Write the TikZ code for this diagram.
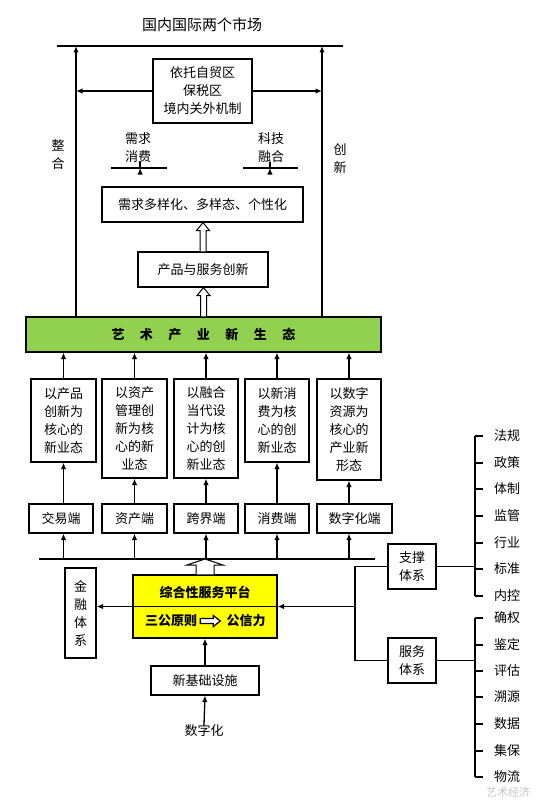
\documentclass[tikz,border=0pt]{standalone}
\usepackage{fontspec}
\newfontfamily\cjk{Noto Sans CJK SC}
\usetikzlibrary{arrows.meta,calc}
\definecolor{ecogreen}{HTML}{92D050}
\definecolor{platyellow}{HTML}{FFFF00}
\newcommand{\hollowup}[5]{%
  \draw[line width=1pt, fill=white] let \p1=(#1), \p2=(#2) in
    (\x1-#3,\y1) -- (\x1-#3,\y2-#5) -- (\x1-#4,\y2-#5) -- (\x1,\y2) --
    (\x1+#4,\y2-#5) -- (\x1+#3,\y2-#5) -- (\x1+#3,\y1);}
\newcommand{\hollowright}[5]{%
  \draw[line width=1.2pt, fill=white] let \p1=(#1), \p2=(#2) in
    (\x1,\y1+#3) -- (\x2-#5,\y1+#3) -- (\x2-#5,\y1+#4) -- (\x2,\y1) --
    (\x2-#5,\y1-#4) -- (\x2-#5,\y1-#3) -- (\x1,\y1-#3) -- cycle;}
\begin{document}
\begin{tikzpicture}[x=1pt,y=-1pt,
  every node/.style={font=\cjk\fontsize{13}{18}\selectfont, inner sep=0pt, align=center},
  box/.style={draw, line width=1.1pt},
  arr/.style={line width=1.3pt, -{Latex[length=6.5pt,width=5.5pt]}},
  ln/.style={line width=1.3pt}]
\useasboundingbox (0,0) rectangle (550,808);

% top
\node[font=\cjk\fontsize{15}{18}\selectfont] (market) at (202,25) {国内国际两个市场};
\coordinate (tl) at (57,46);
\coordinate (tr) at (343,46);
\draw[ln] (tl) -- (tr);
\coordinate (Ltop) at (76,46);
\coordinate (Rtop) at (322,46);

\node[box, minimum width=99pt, minimum height=64pt] (zone) at (202.5,91) {依托自贸区\\保税区\\境内关外机制};
\node (zh) at (58,155) {整\\合};
\node (cx) at (340,159) {创\\新};

\node (xq) at (138,148) {需求\\消费};
\node (kj) at (271,148) {科技\\融合};
\coordinate (xqL) at (111,168);
\coordinate (xqR) at (167,168);
\coordinate (kjL) at (243,168);
\coordinate (kjR) at (298,168);
\draw[ln] (xqL) -- (xqR);
\draw[ln] (kjL) -- (kjR);

\node[box, minimum width=201pt, minimum height=35pt] (demand) at (202.5,204.5) {需求多样化、多样态、个性化};
\node[box, minimum width=130pt, minimum height=35pt] (prod) at (203,269.5) {产品与服务创新};
\node[box, fill=ecogreen, minimum width=355pt, minimum height=35pt, font=\cjk\bfseries\fontsize{13}{18}\selectfont] (green) at (203.5,334.5)
  {艺\hspace{15.5pt}术\hspace{15.5pt}产\hspace{15.5pt}业\hspace{15.5pt}新\hspace{15.5pt}生\hspace{15.5pt}态};

\draw[arr] (green.north -| Ltop) -- (Ltop);
\draw[arr] (green.north -| Rtop) -- (Rtop);
\draw[arr] (zone.west) -- (zone.west -| Ltop);
\draw[arr] (zone.east) -- (zone.east -| Rtop);
\draw[arr] ($(xqL)!0.52!(xqR)$) -- ($(xqL)!0.52!(xqR)$ |- demand.north);
\draw[arr] ($(kjL)!0.49!(kjR)$) -- ($(kjL)!0.49!(kjR)$ |- demand.north);
\hollowup{prod.north}{demand.south}{3pt}{6.5pt}{8pt}
\hollowup{green.north}{prod.south}{3pt}{6.5pt}{8pt}

% five upper boxes
\node[box, minimum width=65pt, minimum height=83pt] (b1) at (63.5,420.5) {以产品\\创新为\\核心的\\新业态};
\node[box, minimum width=65pt, minimum height=99pt] (b2) at (134.5,428.5) {以资产\\管理创\\新为核\\心的新\\业态};
\node[box, minimum width=64pt, minimum height=99pt] (b3) at (206,428.5) {以融合\\当代设\\计为核\\心的创\\新业态};
\node[box, minimum width=64pt, minimum height=83pt] (b4) at (277,420.5) {以新消\\费为核\\心的创\\新业态};
\node[box, minimum width=64pt, minimum height=101pt] (b5) at (349,429.5) {以数字\\资源为\\核心的\\产业新\\形态};

% lower boxes
\node[box, minimum width=64pt, minimum height=29pt] (l1) at (61,518.5) {交易端};
\node[box, minimum width=65pt, minimum height=29pt] (l2) at (134.5,518.5) {资产端};
\node[box, minimum width=64pt, minimum height=29pt] (l3) at (206,518.5) {跨界端};
\node[box, minimum width=64pt, minimum height=29pt] (l4) at (277,518.5) {消费端};
\node[box, minimum width=75pt, minimum height=29pt] (l5) at (354.5,518.5) {数字化端};

\coordinate (busL) at (39,559);
\coordinate (busR) at (375,559);
\draw[ln] (busL) -- (busR);

\foreach \k in {1,...,5}{
  \draw[arr] (b\k.north) -- (b\k.north |- green.south);
  \draw[arr] (b\k.south |- l\k.north) -- (b\k.south);
  \draw[arr] (b\k.south |- busL) -- (b\k.south |- l\k.south);
}

% platform
\node[box, fill=platyellow, minimum width=144pt, minimum height=63pt] (plat) at (205,606.5) {};
\draw[line width=1pt] (plat.west) -- (plat.east);
\node[font=\cjk\bfseries\fontsize{13}{18}\selectfont] (p1) at (205,592) {综合性服务平台};
\node[font=\cjk\bfseries\fontsize{13}{18}\selectfont] (p2) at (171,621) {三公原则};
\node[font=\cjk\bfseries\fontsize{13}{18}\selectfont] (p3) at (246,621) {公信力};
\hollowright{$(p2.east)+(3,0)$}{$(p3.west)+(-6,0)$}{2.5pt}{5.5pt}{7pt}
\hollowup{plat.north}{$(plat.north |- busL)$}{9pt}{18pt}{6pt}

\node[box, minimum width=31pt, minimum height=90pt] (jr) at (80.5,613) {金\\融\\体\\系};
\draw[arr] (plat.west) -- (plat.west -| jr.east);

\node[box, minimum width=48pt, minimum height=45pt] (zc) at (412,566.5) {支撑\\体系};
\node[box, minimum width=48pt, minimum height=45pt] (fw) at (412,660.5) {服务\\体系};
\coordinate (J) at (355,606.5);
\draw[ln] (zc.west) -- (zc.west -| J) -- (fw.west -| J) -- (fw.west);
\draw[arr] (J) -- (plat.east);

\node[box, minimum width=108pt, minimum height=29pt] (xj) at (205,680.5) {新基础设施};
\node (szh) at (204,731) {数字化};
\draw[arr] (xj.north) -- (plat.south);
\draw[arr] (szh.north) -- (xj.south);

% brackets
\coordinate (sv) at (475,0);
\node (r1) at (507,436) {法规};
\node (r2) at (507,463) {政策};
\node (r3) at (507,489) {体制};
\node (r4) at (507,516) {监管};
\node (r5) at (507,543) {行业};
\node (r6) at (507,569) {标准};
\node (r7) at (507,596) {内控};
\node (s1) at (507,618) {确权};
\node (s2) at (507,645) {鉴定};
\node (s3) at (507,671) {评估};
\node (s4) at (507,697) {溯源};
\node (s5) at (507,724) {数据};
\node (s6) at (507,751) {集保};
\node (s7) at (507,777) {物流};
\draw[ln] (sv |- r1) -- (sv |- r7);
\draw[ln] (sv |- s1) -- (sv |- s7);
\foreach \k in {1,...,7}{
  \draw[ln] (sv |- r\k) -- ++(8,0);
  \draw[ln] (sv |- s\k) -- ++(8,0);
}
\draw[ln] (zc.east) -- (zc.east -| sv);
\draw[ln] (fw.east) -- (fw.east -| sv);

\node[text=gray!45, font=\cjk\fontsize{11}{11}\selectfont] (wm) at (508,792) {艺术经济};
\end{tikzpicture}
\end{document}
